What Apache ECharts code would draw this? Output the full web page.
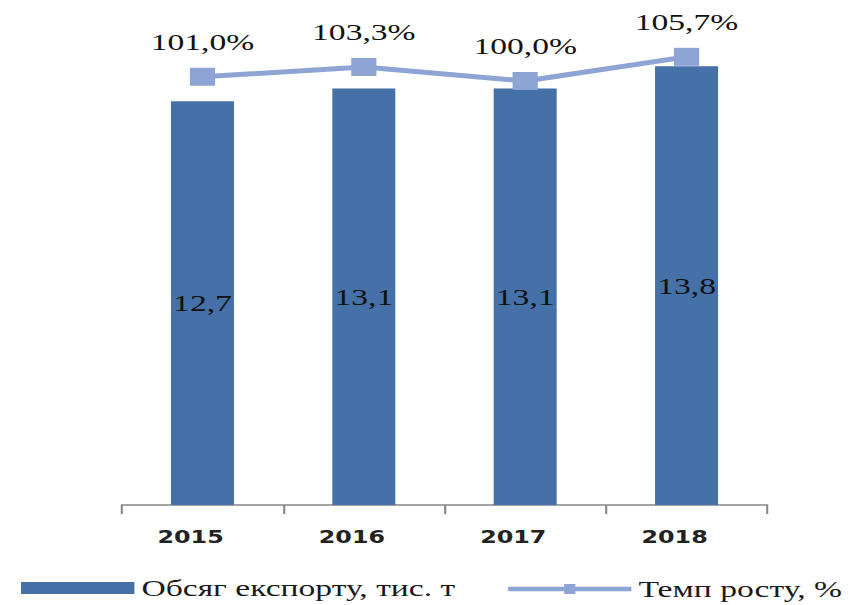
<!DOCTYPE html>
<html>
<head>
<meta charset="utf-8">
<script src="https://cdn.jsdelivr.net/npm/echarts@6/dist/echarts.min.js"></script>
<style>
  html, body { margin: 0; padding: 0; background: #fff; overflow: hidden; }
  #wrap { width: 850px; height: 605px; overflow: hidden; }
  /* the chart is laid out narrow and widened horizontally */
  #chart { width: 607.14px; height: 605px; transform: scaleX(1.4); transform-origin: 0 0; }
</style>
</head>
<body>
<div id="wrap"><div id="chart"></div></div>
<script>
const years = ['2015', '2016', '2017', '2018'];
const exportVolume = [12.7, 13.1, 13.1, 13.8];      // тис. т
const growthRate = [101.0, 103.3, 100.0, 105.7];     // %
const barName = 'Обсяг експорту, тис. т';
const lineName = 'Темп росту, %';

const fmt = v => v.toFixed(1).replace('.', ',');

// thick line with a small square in the middle, for the line legend entry
const lineLegendIcon = 'path://M0,2.75H40V0H48V2.75H88V7.25H48V10H40V7.25H0Z';

const chart = echarts.init(document.getElementById('chart'), null, { renderer: 'svg' });

chart.setOption({
  animation: false,
  backgroundColor: '#ffffff',
  grid: { left: 87, right: 59, top: 28, bottom: 100, containLabel: false },
  legend: [
    {
      data: [{ name: barName, icon: 'rect' }],
      left: 10, top: 571,
      itemWidth: 81, itemHeight: 12, itemGap: 8,
      textStyle: { fontFamily: 'Liberation Serif', fontSize: 24, color: '#1a1a1a' }
    },
    {
      data: [{ name: lineName, icon: lineLegendIcon, itemStyle: { color: '#8DA4D4' } }],
      left: 358, top: 572,
      itemWidth: 88, itemHeight: 10, itemGap: 6,
      textStyle: { fontFamily: 'Liberation Serif', fontSize: 24, color: '#1a1a1a' }
    }
  ],
  xAxis: {
    type: 'category',
    data: years,
    axisLine: { lineStyle: { color: '#868686', width: 1.5 } },
    axisTick: { show: true, length: 9, lineStyle: { color: '#868686', width: 1.5 } },
    axisLabel: {
      margin: 24,
      padding: [0, 17, 0, 0],
      fontFamily: 'DejaVu Sans', fontWeight: 'bold', fontSize: 17, color: '#222'
    }
  },
  yAxis: [
    { type: 'value', min: 0, max: 15, show: false, splitLine: { show: false } },
    { type: 'value', min: 0, max: 112.5, show: false, splitLine: { show: false } }
  ],
  series: [
    {
      name: barName,
      type: 'bar',
      data: exportVolume,
      barWidth: 45,
      itemStyle: { color: '#4570A8' },
      label: {
        show: true, position: 'inside',
        formatter: p => fmt(p.value),
        fontFamily: 'Liberation Serif', fontSize: 24, color: '#111'
      }
    },
    {
      name: lineName,
      type: 'line',
      yAxisIndex: 1,
      data: growthRate,
      symbol: 'rect',
      symbolSize: 18,
      lineStyle: { color: '#8DA4D4', width: 5 },
      itemStyle: { color: '#8DA4D4' },
      label: {
        show: true, position: 'top', distance: 14,
        formatter: p => fmt(p.value) + '%',
        fontFamily: 'Liberation Serif', fontSize: 24, color: '#111'
      }
    }
  ]
});
</script>
</body>
</html>
